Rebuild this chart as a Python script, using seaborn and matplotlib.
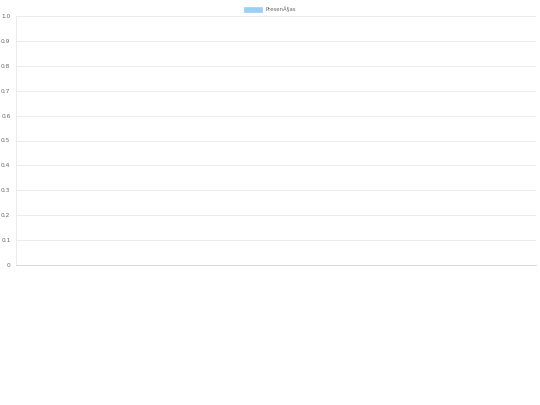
import numpy as np
import pandas as pd
import matplotlib
matplotlib.use("Agg")
import matplotlib.pyplot as plt
import matplotlib.patches as mpatches
import seaborn as sns

# --- data: the chart has no bars, only the series name ---
categories = []
presencas = []
series_label = "PresenÃ§as"
y_ticks = [0, 0.1, 0.2, 0.3, 0.4, 0.5, 0.6, 0.7, 0.8, 0.9, 1.0]
y_tick_labels = ["0", "0.1", "0.2", "0.3", "0.4", "0.5", "0.6", "0.7", "0.8", "0.9", "1.0"]

sns.set_style("white")
plt.rcParams['font.family'] = ['DejaVu Sans']

fig = plt.figure(figsize=(5.4, 4.05), dpi=100)
ax = fig.add_axes([16 / 540, 1 - 265 / 405, 520 / 540, 249 / 405])

df = pd.DataFrame({'categoria': pd.Series(categories, dtype=str),
                   'valor': pd.Series(presencas, dtype=float)})
sns.barplot(data=df, x='categoria', y='valor', ax=ax, color='#9ad0f5')

ax.set_xlim(0, 1)
ax.set_ylim(0, 1.0)
ax.set_yticks(y_ticks)
ax.set_yticklabels(y_tick_labels)
ax.set_xticks([])
ax.set_xlabel("")
ax.set_ylabel("")
ax.tick_params(axis='y', labelsize=4.2, labelcolor='#666666', length=3,
               color='#ececec', width=0.7, pad=1)
ax.grid(axis='y', color='#ececec', linewidth=0.7)
ax.set_axisbelow(True)
for side in ['top', 'right']:
    ax.spines[side].set_visible(False)
ax.spines['left'].set_color('#ececec')
ax.spines['left'].set_linewidth(0.7)
ax.spines['bottom'].set_color('#d8d8d8')
ax.spines['bottom'].set_linewidth(0.7)

handle = mpatches.Patch(facecolor='#9ad0f5', edgecolor='#9ad0f5', linewidth=0.5,
                        label=series_label)
fig.legend(handles=[handle], loc='center', bbox_to_anchor=(0.5, 1 - 9.5 / 405),
           frameon=False, fontsize=3.9, labelcolor='#666666',
           handlelength=3.2, handleheight=1.0, handletextpad=0.7)

fig.savefig("out.png", dpi=100)
